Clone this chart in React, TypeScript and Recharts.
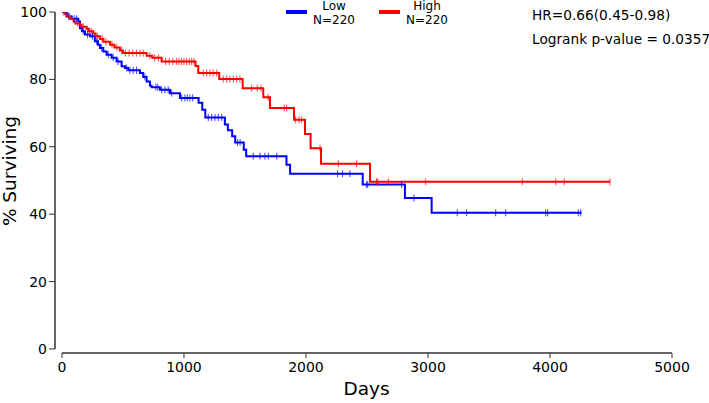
import { ComposedChart, Line, Scatter, XAxis, YAxis, ReferenceLine, Label } from 'recharts'

// Kaplan-Meier steps: [day, % surviving]
const lowSteps: [number, number][] = [
  [0, 100], [40, 98.7], [80, 98.0], [134, 97.2], [148, 95.2], [164, 94.3], [189, 93.3],
  [230, 92.8], [270, 91.3], [295, 90.3], [311, 89.3], [339, 88.3], [366, 87.3], [407, 86.4],
  [448, 85.3], [489, 83.9], [516, 83.4], [544, 82.7], [639, 81.9], [666, 80.7], [694, 79.4],
  [721, 78.1], [735, 77.7], [803, 76.9], [885, 75.9], [967, 74.5], [1120, 73.1], [1150, 71.0],
  [1175, 68.7], [1335, 66.6], [1360, 64.9], [1395, 63.1], [1420, 61.3], [1490, 59.1],
  [1510, 57.2], [1840, 54.7], [1870, 52.0], [2465, 48.8], [2811, 44.8], [3030, 40.4],
]
const lowLastDay = 4260

const highSteps: [number, number][] = [
  [0, 100], [25, 99.5], [45, 98.7], [70, 97.9], [95, 97.2], [110, 96.6], [148, 96.2],
  [160, 95.6], [202, 95.0], [215, 94.3], [257, 93.6], [275, 92.8], [311, 92.0], [340, 91.2],
  [393, 90.3], [430, 89.5], [475, 88.6], [500, 87.8], [694, 87.0], [740, 86.4], [817, 85.3],
  [1095, 84.0], [1117, 81.9], [1289, 80.1], [1481, 77.4], [1650, 74.7], [1705, 71.5],
  [1902, 68.0], [1992, 63.8], [2038, 59.6], [2123, 55.0], [2525, 49.6],
]
const highLastDay = 4492

// censoring times (days)
const lowCensored = [
  15, 55, 100, 120, 175, 210, 250, 285, 325, 380, 420, 460, 530, 557, 584, 612, 680, 770, 785,
  817, 844, 871, 899, 981, 1008, 1027, 1049, 1071, 1199, 1227, 1254, 1281, 1309, 1440, 1460,
  1568, 1623, 1664, 1691, 1760, 2260, 2300, 2360, 2497, 2506, 2784, 2885, 3240, 3317, 3555,
  3637, 3965, 3981, 4232, 4252,
]
const highCensored = [
  30, 60, 130, 175, 225, 240, 290, 330, 360, 410, 450, 490, 520, 550, 580, 610, 640, 665, 720,
  760, 790, 850, 880, 910, 940, 960, 981, 1000, 1022, 1043, 1063, 1082, 1158, 1186, 1213, 1240,
  1268, 1322, 1350, 1377, 1404, 1432, 1459, 1555, 1601, 1631, 1690, 1822, 1842, 1915, 1943,
  1965, 2115, 2265, 2415, 2579, 2588, 2675, 2981, 3773, 4047, 4117, 4492,
]

const groups = ['Low', 'High']
const counts = [220, 220]
const xTicks = [0, 1000, 2000, 3000, 4000, 5000]
const yTicks = [0, 20, 40, 60, 80, 100]

const COLORS = ['#0000ff', '#ff0000']
const FONT = '"DejaVu Sans", sans-serif'
const AXIS = '#333333'
const X_MIN = -57
const Y_MIN = -1.2

const curve = (steps: [number, number][], lastDay: number) => [
  ...steps.map(([day, surv]) => ({ day, surv })),
  { day: lastDay, surv: steps[steps.length - 1][1] },
]

const survAt = (steps: [number, number][], t: number) => {
  let s = steps[0][1]
  for (const [d, v] of steps) if (d <= t) s = v
  return s
}

const marks = (steps: [number, number][], times: number[]) =>
  times.map((day) => ({ day, surv: survAt(steps, day) }))

const tickMark = (color: string) => (props: any) => (
  <line
    x1={props.cx}
    x2={props.cx}
    y1={props.cy - 3.5}
    y2={props.cy + 3.5}
    stroke={color}
    strokeOpacity={0.75}
    strokeWidth={1}
  />
)

const lowLine = curve(lowSteps, lowLastDay)
const highLine = curve(highSteps, highLastDay)
const lowMarks = marks(lowSteps, lowCensored)
const highMarks = marks(highSteps, highCensored)

export default function App() {
  return (
    <div style={{ position: 'absolute', left: 0, top: 0, width: 709, height: 403, background: '#fff', fontFamily: FONT }}>
      <ComposedChart width={709} height={403} margin={{ top: 12, right: 37, bottom: 0, left: 15 }}>
        <XAxis
          dataKey="day"
          type="number"
          domain={[X_MIN, 5000]}
          ticks={xTicks}
          allowDataOverflow
          axisLine={false}
          tickLine={{ stroke: AXIS }}
          tickSize={5}
          tickMargin={4}
          height={50}
          tick={{ fill: '#000', fontSize: 14, fontFamily: FONT }}
        >
          <Label
            content={({ viewBox }: any) => (
              <text x={viewBox.x + viewBox.width / 2 + 3} y={395} textAnchor="middle" fontSize={18.5} fontFamily={FONT} fill="#000">
                Days
              </text>
            )}
          />
        </XAxis>
        <YAxis
          type="number"
          domain={[Y_MIN, 100]}
          ticks={yTicks}
          allowDataOverflow
          axisLine={false}
          tickLine={{ stroke: AXIS }}
          tickSize={6}
          tickMargin={2}
          width={40}
          tick={{ fill: '#000', fontSize: 14, fontFamily: FONT }}
        >
          <Label
            content={() => (
              <text x={16} y={171} transform="rotate(-90 16 171)" textAnchor="middle" fontSize={18.5} fontFamily={FONT} fill="#000">
                % Surviving
              </text>
            )}
          />
        </YAxis>
        <ReferenceLine segment={[{ x: X_MIN, y: 0 }, { x: X_MIN, y: 100 }]} stroke={AXIS} strokeWidth={1.5} ifOverflow="visible" />
        <ReferenceLine segment={[{ x: 0, y: Y_MIN }, { x: 5000, y: Y_MIN }]} stroke={AXIS} strokeWidth={1.5} ifOverflow="visible" />
        <Line data={lowLine} dataKey="surv" type="stepAfter" stroke={COLORS[0]} strokeWidth={2} dot={false} isAnimationActive={false} />
        <Line data={highLine} dataKey="surv" type="stepAfter" stroke={COLORS[1]} strokeWidth={2} dot={false} isAnimationActive={false} />
        <Scatter data={lowMarks} dataKey="surv" shape={tickMark(COLORS[0])} isAnimationActive={false} />
        <Scatter data={highMarks} dataKey="surv" shape={tickMark(COLORS[1])} isAnimationActive={false} />
      </ComposedChart>

      <div style={{ position: 'absolute', left: 286, top: -1, display: 'flex', fontSize: 12, lineHeight: '14px', color: '#000' }}>
        {groups.map((g, i) => (
          <div key={g} style={{ display: 'flex', alignItems: 'flex-start', marginRight: i === 0 ? 23 : 0 }}>
            <div style={{ width: 21, height: 4, marginTop: 11, background: COLORS[i] }} />
            <div style={{ width: 44, marginLeft: 5, textAlign: 'center' }}>
              <div>{g}</div>
              <div>N={counts[i]}</div>
            </div>
          </div>
        ))}
      </div>

      <div style={{ position: 'absolute', left: 532, top: 3, fontSize: 13.7, lineHeight: '24px', color: '#000', whiteSpace: 'nowrap' }}>
        <div>HR=0.66(0.45-0.98)</div>
        <div>Logrank p-value = 0.0357</div>
      </div>
    </div>
  )
}
